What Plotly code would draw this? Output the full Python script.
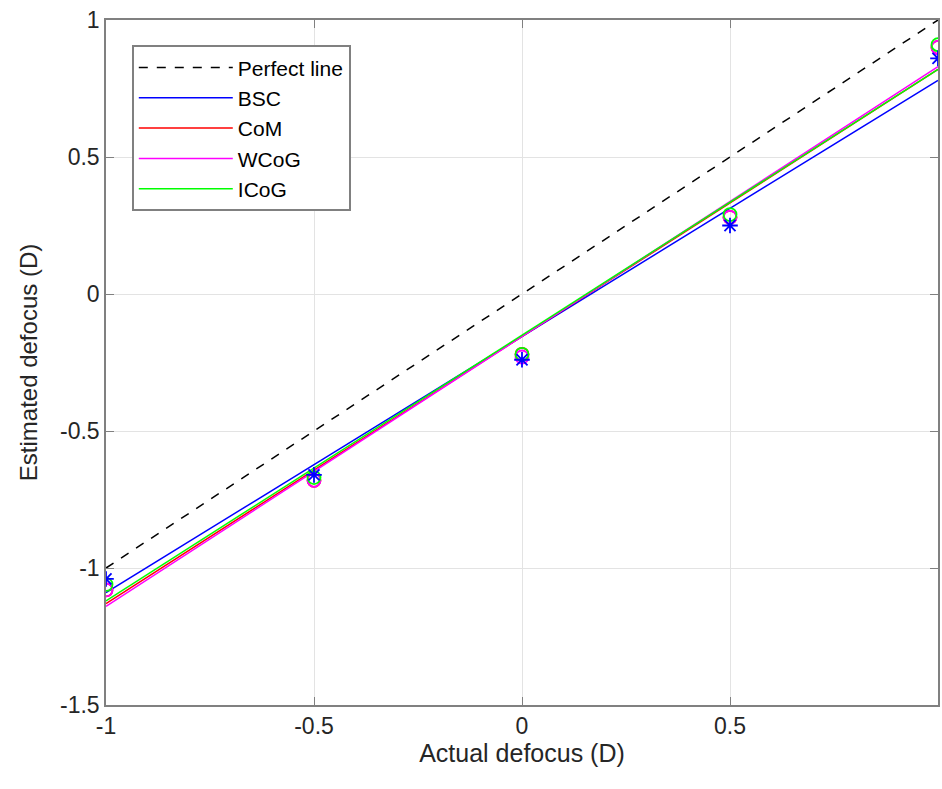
import plotly.graph_objects as go

actual = [-1.0, -0.5, 0.0, 0.5, 1.0]
bsc = [-1.04, -0.66, -0.24, 0.25, 0.86]
com = [-1.08, -0.68, -0.22, 0.28, 0.90]
wcog = [-1.08, -0.68, -0.23, 0.28, 0.90]
icog = [-1.06, -0.67, -0.22, 0.29, 0.91]

fit_x = [-1.0, 1.0]
bsc_fit = [-1.09, 0.78]
com_fit = [-1.13, 0.82]
wcog_fit = [-1.14, 0.83]
icog_fit = [-1.12, 0.82]
perfect = [-1.0, 1.0]

xticks = [-1, -0.5, 0, 0.5, 1]
yticks = [-1.5, -1, -0.5, 0, 0.5, 1]

fig = go.Figure()

LW = 1.5
fig.add_trace(go.Scatter(x=fit_x, y=perfect, mode="lines", name="Perfect line",
                         line=dict(color="black", width=LW, dash="dash")))
fig.add_trace(go.Scatter(x=fit_x, y=bsc_fit, mode="lines", name="BSC",
                         line=dict(color="#0000ff", width=LW)))
fig.add_trace(go.Scatter(x=fit_x, y=com_fit, mode="lines", name="CoM",
                         line=dict(color="#ff0000", width=LW)))
fig.add_trace(go.Scatter(x=fit_x, y=wcog_fit, mode="lines", name="WCoG",
                         line=dict(color="#ff00ff", width=LW)))
fig.add_trace(go.Scatter(x=fit_x, y=icog_fit, mode="lines", name="ICoG",
                         line=dict(color="#00ff00", width=LW)))

for vals, col, sym in [(com, "#ff0000", "circle-open"),
                       (wcog, "#ff00ff", "circle-open"),
                       (icog, "#00ff00", "circle-open"),
                       (bsc, "#0000ff", "asterisk-open")]:
    fig.add_trace(go.Scatter(x=actual, y=vals, mode="markers", showlegend=False,
                             marker=dict(symbol=sym, size=13, color=col,
                                         line=dict(color=col, width=1.8))))

axis_common = dict(showgrid=True, gridcolor="#e3e3e3", gridwidth=1,
                   showline=True, linecolor="#808080", linewidth=1.5, mirror="ticks",
                   ticks="inside", ticklen=8, tickcolor="#808080",
                   zeroline=False, tickfont=dict(size=23, color="#262626"))

fig.update_xaxes(range=[-1, 1], tickvals=xticks, ticktext=["-1", "-0.5", "0", "0.5", "1"],
                 title_text="Actual defocus (D)", title_standoff=0,
                 title_font=dict(size=25, color="#262626"), **axis_common)
fig.update_yaxes(range=[-1.5, 1], tickvals=yticks, ticktext=["-1.5", "-1", "-0.5", "0", "0.5", "1"],
                 title_text="Estimated defocus (D)", title_standoff=16,
                 title_font=dict(size=24, color="#262626"), **axis_common)

fig.update_layout(
    width=942, height=789,
    margin=dict(l=106, r=2, t=20, b=84),
    paper_bgcolor="white", plot_bgcolor="white",
    font=dict(family="Liberation Sans, Arial, sans-serif", color="#262626"),
    legend=dict(x=0.031, y=0.963, xanchor="left", yanchor="top",
                bgcolor="white", bordercolor="#808080", borderwidth=2,
                font=dict(size=21, color="black"), tracegroupgap=0,
                itemwidth=94),
    showlegend=True,
)

fig.write_html("out.html")
